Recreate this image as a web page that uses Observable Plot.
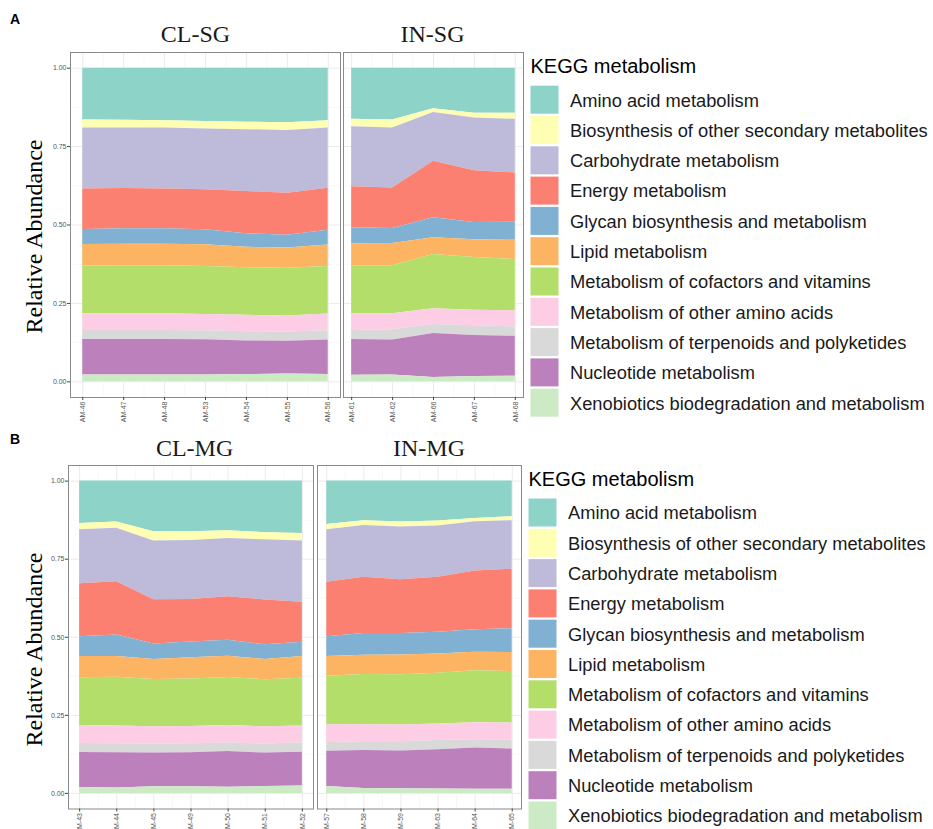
<!DOCTYPE html>
<html><head><meta charset="utf-8">
<script src="https://cdn.jsdelivr.net/npm/d3@7"></script>
<script src="https://cdn.jsdelivr.net/npm/@observablehq/plot@0.6"></script>
<style>
body{margin:0;background:#fff;}
#root{position:relative;width:933px;height:829px;overflow:hidden;background:#fff;}
#root > svg, #root > figure{position:absolute;margin:0;}
</style></head><body><div id="root"></div>
<script>
const categories = ["Amino acid metabolism","Biosynthesis of other secondary metabolites","Carbohydrate metabolism","Energy metabolism","Glycan biosynthesis and metabolism","Lipid metabolism","Metabolism of cofactors and vitamins","Metabolism of other amino acids","Metabolism of terpenoids and polyketides","Nucleotide metabolism","Xenobiotics biodegradation and metabolism"];
const colors = ["#8DD3C7","#FFFFB3","#BEBADA","#FB8072","#80B1D3","#FDB462","#B3DE69","#FCCDE5","#D9D9D9","#BC80BD","#CCEBC5"];
const yTicks = [0, 0.25, 0.5, 0.75, 1];
const yMinor = [0.125, 0.375, 0.625, 0.875];

// Rows follow the order of `categories`
const clsgSamples = ["AM-46","AM-47","AM-48","AM-53","AM-54","AM-55","AM-56"];
const clsgValues = [
  [0.165,0.166,0.168,0.170,0.172,0.174,0.168],
  [0.026,0.025,0.023,0.024,0.024,0.025,0.023],
  [0.194,0.193,0.194,0.194,0.197,0.200,0.192],
  [0.129,0.128,0.127,0.127,0.135,0.134,0.134],
  [0.048,0.049,0.049,0.048,0.043,0.040,0.047],
  [0.069,0.069,0.069,0.069,0.065,0.065,0.068],
  [0.152,0.153,0.153,0.153,0.152,0.152,0.152],
  [0.053,0.053,0.053,0.052,0.052,0.051,0.053],
  [0.029,0.029,0.029,0.029,0.030,0.030,0.030],
  [0.113,0.113,0.113,0.112,0.107,0.104,0.110],
  [0.022,0.022,0.022,0.022,0.023,0.025,0.023]
];

const insgSamples = ["AM-61","AM-62","AM-66","AM-67","AM-68"];
const insgValues = [
  [0.163,0.165,0.129,0.144,0.144],
  [0.024,0.026,0.012,0.015,0.019],
  [0.191,0.191,0.156,0.168,0.171],
  [0.131,0.129,0.180,0.165,0.157],
  [0.051,0.048,0.064,0.055,0.058],
  [0.070,0.071,0.053,0.057,0.061],
  [0.153,0.153,0.173,0.168,0.164],
  [0.053,0.051,0.050,0.049,0.051],
  [0.029,0.033,0.029,0.031,0.030],
  [0.114,0.111,0.140,0.131,0.127],
  [0.021,0.022,0.014,0.017,0.018]
];

const clmgSamples = ["AM-43","AM-44","AM-45","AM-49","AM-50","AM-51","AM-52"];
const clmgValues = [
  [0.136,0.131,0.162,0.162,0.159,0.165,0.168],
  [0.020,0.020,0.030,0.028,0.025,0.023,0.024],
  [0.173,0.171,0.188,0.189,0.186,0.193,0.196],
  [0.169,0.171,0.142,0.136,0.140,0.143,0.128],
  [0.064,0.069,0.049,0.051,0.051,0.047,0.046],
  [0.068,0.066,0.064,0.068,0.068,0.065,0.069],
  [0.153,0.156,0.152,0.152,0.154,0.151,0.153],
  [0.057,0.057,0.055,0.055,0.056,0.055,0.054],
  [0.029,0.029,0.029,0.029,0.027,0.029,0.030],
  [0.112,0.113,0.108,0.109,0.114,0.107,0.108],
  [0.019,0.017,0.021,0.021,0.020,0.022,0.024]
];

const inmgSamples = ["AM-57","AM-58","AM-59","AM-63","AM-64","AM-65"];
const inmgValues = [
  [0.139,0.127,0.131,0.128,0.120,0.114],
  [0.017,0.015,0.016,0.016,0.010,0.013],
  [0.168,0.166,0.169,0.164,0.158,0.155],
  [0.174,0.180,0.172,0.176,0.188,0.191],
  [0.064,0.070,0.069,0.070,0.072,0.076],
  [0.063,0.061,0.063,0.061,0.059,0.061],
  [0.155,0.161,0.161,0.163,0.167,0.165],
  [0.057,0.055,0.054,0.053,0.054,0.054],
  [0.028,0.028,0.029,0.029,0.027,0.029],
  [0.113,0.121,0.121,0.126,0.132,0.129],
  [0.022,0.016,0.015,0.014,0.013,0.013]
];

const root = document.getElementById("root");

function drawPanel({samples, values, left, top, frameLeft, frameRight, frameTop, frameBottom, showY}) {
  const n = samples.length;
  const data = [];
  values.forEach((row, ci) => row.forEach((v, j) => data.push({i: j, cat: categories[ci], value: v})));
  const marginLeft = frameLeft - left;
  const marginTop = frameTop - top;
  const marginRight = 2;
  const marginBottom = 34;
  const width = frameRight - left + marginRight;
  const height = frameBottom - top + marginBottom;
  const idx = d3.range(n);
  const mids = d3.range(n - 1).map(k => k + 0.5);
  const marks = [
    Plot.ruleY(yMinor, {stroke: "#F3F3F3", strokeWidth: 0.6}),
    Plot.ruleY(yTicks, {stroke: "#EBEBEB", strokeWidth: 1}),
    Plot.ruleX(mids, {stroke: "#F3F3F3", strokeWidth: 0.6}),
    Plot.ruleX(idx, {stroke: "#EBEBEB", strokeWidth: 1}),
    Plot.areaY(data, {x: "i", y: "value", fill: "cat", order: categories.slice().reverse(), curve: "linear"}),
    Plot.frame({stroke: "#8a8a8a", strokeWidth: 1}),
    Plot.axisX({ticks: idx, tickFormat: i => samples[i], tickRotate: -90, tickSize: 3, tickPadding: 1,
      label: null, fill: "#555", stroke: "#444", fontSize: 7})
  ];
  if (showY) {
    marks.push(Plot.axisY({ticks: yTicks, tickFormat: d => d.toFixed(2), tickSize: 3, tickPadding: 1,
      label: null, fill: "#555", stroke: "#444", fontSize: 7}));
  }
  const svg = Plot.plot({
    width, height, marginLeft, marginTop, marginRight, marginBottom,
    style: {fontFamily: "'Liberation Sans', Arial, sans-serif", fontSize: "7px", background: "transparent", overflow: "visible"},
    x: {domain: [-0.05 * (n - 1), 1.05 * (n - 1)]},
    y: {domain: [-0.05, 1.05], axis: showY ? undefined : null},
    color: {domain: categories, range: colors},
    marks
  });
  svg.style.left = left + "px";
  svg.style.top = top + "px";
  root.appendChild(svg);
}

drawPanel({samples: clsgSamples, values: clsgValues, left: 38, top: 45, frameLeft: 70, frameRight: 340, frameTop: 52, frameBottom: 397, showY: true});
drawPanel({samples: insgSamples, values: insgValues, left: 340, top: 45, frameLeft: 343, frameRight: 523, frameTop: 52, frameBottom: 397, showY: false});
drawPanel({samples: clmgSamples, values: clmgValues, left: 36, top: 458, frameLeft: 68, frameRight: 313, frameTop: 465, frameBottom: 808.5, showY: true});
drawPanel({samples: inmgSamples, values: inmgValues, left: 314, top: 458, frameLeft: 317, frameRight: 521, frameTop: 465, frameBottom: 808.5, showY: false});

// Text overlay: panel letters, strip titles, axis titles, legends
const ov = d3.select(root).append("svg")
  .attr("width", 933).attr("height", 829)
  .style("left", "0px").style("top", "0px").style("pointer-events", "none");

const blocks = [
  {letter: "A", ly: 24, strips: [["CL-SG", 195.5], ["IN-SG", 432.5]], stripY: 41.7, axisY: 236.5, legX: 530.5, legTextX: 570, legTitleY: 73.3, legTop: 85.7},
  {letter: "B", ly: 444, strips: [["CL-MG", 194.6], ["IN-MG", 429]], stripY: 455.7, axisY: 649.5, legX: 528.5, legTextX: 568, legTitleY: 486.3, legTop: 498.5}
];

blocks.forEach(b => {
  ov.append("text").attr("x", 10).attr("y", b.ly).text(b.letter)
    .attr("font-family", "'Liberation Sans', Arial, sans-serif").attr("font-weight", "bold").attr("font-size", 14).attr("fill", "#000");
  b.strips.forEach(([t, x]) => {
    ov.append("text").attr("x", x).attr("y", b.stripY).attr("text-anchor", "middle").text(t)
      .attr("font-family", "'Liberation Serif', 'Times New Roman', serif").attr("font-size", 24).attr("fill", "#1a1a1a");
  });
  ov.append("text").attr("transform", `translate(42,${b.axisY}) rotate(-90)`).attr("text-anchor", "middle")
    .text("Relative Abundance")
    .attr("font-family", "'Liberation Serif', 'Times New Roman', serif").attr("font-size", 24).attr("fill", "#000");
  ov.append("text").attr("x", b.legX).attr("y", b.legTitleY).text("KEGG metabolism")
    .attr("font-family", "'Liberation Sans', Arial, sans-serif").attr("font-size", 20).attr("fill", "#000");
  categories.forEach((c, i) => {
    const y0 = b.legTop + i * 30.3;
    ov.append("rect").attr("x", b.legX).attr("y", y0).attr("width", 28).attr("height", 28).attr("fill", colors[i]);
    ov.append("text").attr("x", b.legTextX).attr("y", y0 + 20.8).text(c)
      .attr("font-family", "'Liberation Sans', Arial, sans-serif").attr("font-size", 18.3).attr("fill", "#1a1a1a");
  });
});
</script></body></html>
